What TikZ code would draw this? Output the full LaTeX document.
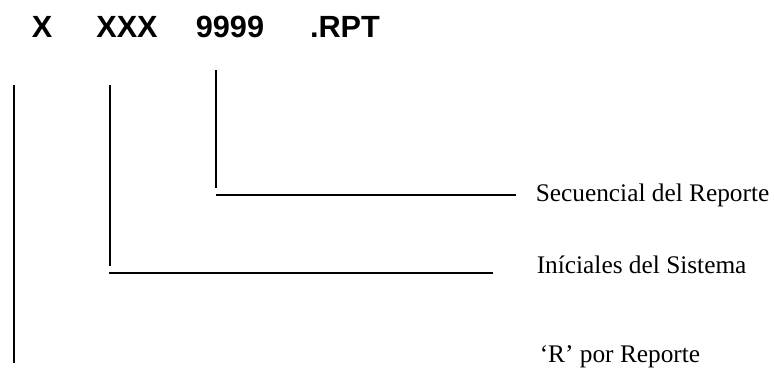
\documentclass[tikz,border=0pt]{standalone}
\usepackage{fontspec}
\setmainfont{Liberation Serif}
\newfontfamily\kopffont{Liberation Sans}

\tikzset{
  kopf/.style={font=\kopffont\bfseries\fontsize{23}{26}\selectfont, anchor=base, inner sep=0pt},
  erkl/.style={font=\fontsize{19}{22}\selectfont, anchor=base west, inner sep=0pt},
}

\begin{document}
\begin{tikzpicture}[x=0.75pt, y=-0.75pt, line width=1.2pt]
  \useasboundingbox (0,0) rectangle (774,371);
  % Dateiname, Teil fuer Teil
  \foreach \name/\xpos/\lab in {pre/42/X, sys/127/XXX, num/230/9999, ext/345/.RPT}
    \node[kopf] (\name) at (\xpos,37) {\lab};
  % Erklaerungen rechts
  \node[erkl] (sec) at (535,201) {Secuencial del Reporte};
  \node[erkl] (ini) at (536,273) {Iníciales del Sistema};
  \node[erkl] (rep) at (539,362) {`R' por Reporte};
  % Fuehrungslinien
  \coordinate (p1) at (14,85);
  \coordinate (p2) at (14,363);
  \coordinate (s1) at (110,85);
  \coordinate (s2) at (110,266);
  \coordinate (s3) at (109,273);
  \coordinate (s4) at (493,273);
  \coordinate (n1) at (216,70);
  \coordinate (n2) at (216,188);
  \coordinate (n3) at (216,195);
  \coordinate (n4) at (516,195);
  \draw (p1) -- (p2);
  \draw (s1) -- (s2);
  \draw (s3) -- (s4);
  \draw (n1) -- (n2);
  \draw (n3) -- (n4);
\end{tikzpicture}
\end{document}
